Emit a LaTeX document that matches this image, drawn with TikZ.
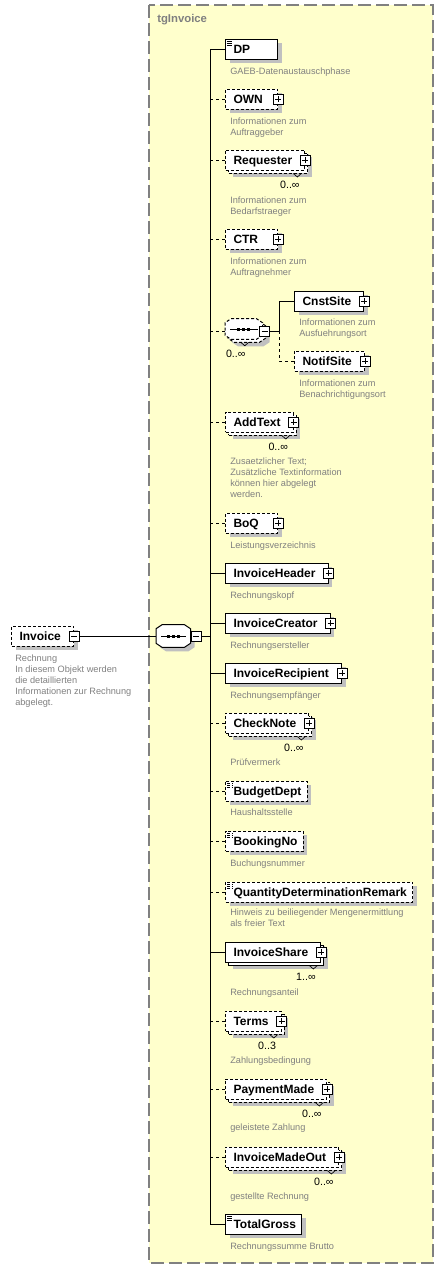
\documentclass[tikz,border=0pt]{standalone}
\usepackage{fontspec}
\setmainfont{Liberation Sans}
\usetikzlibrary{calc,shadows}
\definecolor{grpfill}{RGB}{255,255,204}
\definecolor{grpline}{RGB}{128,128,128}
\definecolor{shadowgray}{RGB}{192,192,192}
\definecolor{desctext}{RGB}{128,128,128}
\tikzset{
  shade/.style={drop shadow={shadow xshift=3pt, shadow yshift=-3pt, fill=shadowgray, draw=none, opacity=1}},
  elem/.style={draw, fill=white, line width=0.75pt, anchor=west, shade,
    minimum height=15pt, inner xsep=0pt, inner ysep=0pt, text height=8pt, text depth=1pt,
    font=\bfseries\fontsize{9}{10}\selectfont,
    execute at begin node=\hspace{6pt}, execute at end node=\hspace{4.5pt}},
  haschild/.style={execute at end node=\hspace{5pt}},
  opt/.style={dash pattern=on 2.25pt off 1.5pt},
  multi/.style={drop shadow={shadow xshift=5.25pt, shadow yshift=-5.25pt, fill=shadowgray, draw=none, opacity=1},
    copy shadow={shadow xshift=2.25pt, shadow yshift=-2.25pt}},
  textonly/.style={path picture={\foreach \d in {1.5,3,4.5}
    \draw[line width=0.5pt] ([xshift=1pt, yshift=-\d pt]path picture bounding box.north west) -- ++(4pt,0);}},
  pmbox/.style={draw, fill=white, line width=0.5pt, minimum size=7.5pt, inner sep=0pt},
  pmplus/.style={pmbox, path picture={\draw[line width=0.5pt]
    ([yshift=-1.5pt]path picture bounding box.north) -- ([yshift=1.5pt]path picture bounding box.south)
    ([xshift=1.5pt]path picture bounding box.west) -- ([xshift=-1.5pt]path picture bounding box.east);}},
  pmminus/.style={pmbox, path picture={\draw[line width=0.5pt]
    ([xshift=1.5pt]path picture bounding box.west) -- ([xshift=-1.5pt]path picture bounding box.east);}},
  compo/.style={inner sep=0pt, anchor=west},
  oct/.style n args={3}{insert path={
    ($(#1.north west)+(6+#2,#3)$) -- ($(#1.north east)+(-6+#2,#3)$) -- ($(#1.north east)+(#2,4+#3)$) --
    ($(#1.south east)+(#2,-4+#3)$) -- ($(#1.south east)+(-6+#2,#3)$) -- ($(#1.south west)+(6+#2,#3)$) --
    ($(#1.south west)+(#2,-4+#3)$) -- ($(#1.north west)+(#2,4+#3)$) -- cycle}},
  conn/.style={line width=0.75pt},
  optconn/.style={conn, dash pattern=on 2.25pt off 2.25pt},
  desc/.style={anchor=north west, align=left, inner sep=0pt, text=desctext, font=\fontsize{6.9}{8.25}\selectfont},
  mult/.style={anchor=east, inner sep=0pt, font=\fontsize{8}{9}\selectfont},
  notch/.style={line width=0.5pt},
  grptitle/.style={anchor=west, inner sep=0pt, text=grpline, font=\bfseries\fontsize{8.5}{10}\selectfont}
}
\begin{document}
\begin{tikzpicture}[x=0.75pt, y=-0.75pt]
\useasboundingbox (0,0) rectangle (444,1271);

% group box
\draw[grpline, fill=grpfill, line width=1pt, dash pattern=on 9.75pt off 3.75pt] (149,5) rectangle (433,1263);
\node[grptitle] (title) at (157,20) {tgInvoice};

% root element and sequence
\node[elem, opt, haschild] (invoice) at (11,636) {Invoice};
\node[pmminus] (invoice-pm) at (invoice.east) {};
\node[desc] (invoice-desc) at (15,655) {Rechnung\\In diesem Objekt werden\\die detaillierten\\Informationen zur Rechnung\\abgelegt.};

\node[compo, minimum width=25.5pt, minimum height=16.5pt] (seq) at (156,636) {};
\fill[shadowgray, oct={seq}{4}{4}];
\draw[fill=white, line width=0.75pt, oct={seq}{0}{0}];
\node[pmminus, anchor=west] (seq-pm) at (seq.east) {};
\coordinate (trunk) at (210,636);

% children
\node[elem, textonly] (dp) at (225,49) {\makebox[28.5pt][l]{DP}};
\node[elem, opt, haschild] (own) at (225,99) {\makebox[23.5pt][l]{OWN}};
\node[elem, opt, haschild, multi] (requester) at (225,160) {Requester};
\node[elem, opt, haschild] (ctr) at (225,239) {\makebox[23.5pt][l]{CTR}};

\node[compo, minimum width=27.75pt, minimum height=15pt] (sitegrp) at (225,329) {};
\fill[shadowgray, oct={sitegrp}{7}{7}];
\draw[fill=white, line width=0.75pt, opt, oct={sitegrp}{3}{3}];
\draw[fill=white, line width=0.75pt, opt, oct={sitegrp}{0}{0}];
\node[pmminus] (sitegrp-pm) at ([xshift=1.5pt, yshift=-1.5pt]sitegrp.east) {};
\foreach \n in {seq,sitegrp} {
  \draw[line width=0.75pt] ($(\n.west)+(5,0)$) -- ($(\n.east)+(-5,0)$);
  \foreach \dx in {-5,0,5}
    \fill ($(\n.center)+(\dx-1.5,-1.5)$) rectangle ++(3,3);
}
\coordinate (subtrunk) at (279,331);
\node[elem, haschild] (cnst) at (294,301) {CnstSite};
\node[elem, opt, haschild] (notif) at (294,361) {NotifSite};

\node[elem, opt, haschild, multi] (addtext) at (225,422) {AddText};
\node[elem, opt, haschild] (boq) at (225,523) {\makebox[23.5pt][l]{BoQ}};
\node[elem, haschild] (invheader) at (225,573) {InvoiceHeader};
\node[elem, haschild] (invcreator) at (225,623) {InvoiceCreator};
\node[elem, haschild] (invrecipient) at (225,673) {InvoiceRecipient};
\node[elem, opt, haschild, multi] (checknote) at (225,723) {CheckNote};
\node[elem, opt, textonly] (budgetdept) at (225,791) {BudgetDept};
\node[elem, opt, textonly] (bookingno) at (225,841) {BookingNo};
\node[elem, opt, textonly] (qtyremark) at (225,892) {QuantityDeterminationRemark};
\node[elem, haschild, multi] (invshare) at (225,952) {InvoiceShare};
\node[elem, opt, haschild, multi] (terms) at (225,1021) {Terms};
\node[elem, opt, haschild, multi] (paymentmade) at (225,1089) {PaymentMade};
\node[elem, opt, haschild, multi] (madeout) at (225,1157) {InvoiceMadeOut};
\node[elem, textonly] (totalgross) at (225,1224) {TotalGross};

\foreach \n in {own,requester,ctr,cnst,notif,addtext,boq,invheader,invcreator,invrecipient,checknote,invshare,terms,paymentmade,madeout}
  \node[pmplus] (\n-pm) at (\n.east) {};

% multiplicities
\foreach \n/\m in {requester/{0..∞},addtext/{0..∞},checknote/{0..∞},invshare/{1..∞},terms/{0..3},paymentmade/{0..∞},madeout/{0..∞}} {
  \draw[notch] ($(\n.south east)+(-12,3)$) -- ++(4,3.5) -- ++(4,-3.5);
  \node[mult] (\n-mult) at ($(\n.south east)+(-5.5,14.5)$) {\m};
}
\draw[notch] ($(sitegrp.south)+(-3,3)$) -- ++(4,3.5) -- ++(4,-3.5);
\node[mult, anchor=center] (sitegrp-mult) at ($(sitegrp.south)+(-8,15)$) {0..∞};

% descriptions
\node[desc] (dp-desc) at (230,68) {GAEB-Datenaustauschphase};
\node[desc] (own-desc) at (230,118) {Informationen zum\\Auftraggeber};
\node[desc] (requester-desc) at (230,197) {Informationen zum\\Bedarfstraeger};
\node[desc] (ctr-desc) at (230,258) {Informationen zum\\Auftragnehmer};
\node[desc] (cnst-desc) at (299,319) {Informationen zum\\Ausfuehrungsort};
\node[desc] (notif-desc) at (299,380) {Informationen zum\\Benachrichtigungsort};
\node[desc] (addtext-desc) at (230,458) {Zusaetzlicher Text;\\Zusätzliche Textinformation\\können hier abgelegt\\werden.};
\node[desc] (boq-desc) at (230,542) {Leistungsverzeichnis};
\node[desc] (invheader-desc) at (230,592) {Rechnungskopf};
\node[desc] (invcreator-desc) at (230,642) {Rechnungsersteller};
\node[desc] (invrecipient-desc) at (230,692) {Rechnungsempfänger};
\node[desc] (checknote-desc) at (230,759) {Prüfvermerk};
\node[desc] (budgetdept-desc) at (230,809) {Haushaltsstelle};
\node[desc] (bookingno-desc) at (230,860) {Buchungsnummer};
\node[desc] (qtyremark-desc) at (230,909) {Hinweis zu beiliegender Mengenermittlung\\als freier Text};
\node[desc] (invshare-desc) at (230,989) {Rechnungsanteil};
\node[desc] (terms-desc) at (230,1057) {Zahlungsbedingung};
\node[desc] (paymentmade-desc) at (230,1124) {geleistete Zahlung};
\node[desc] (madeout-desc) at (230,1193) {gestellte Rechnung};
\node[desc] (totalgross-desc) at (230,1243) {Rechnungssumme Brutto};

% connectors
\draw[conn] (invoice-pm.east) -- (seq.west);
\draw[conn] (seq-pm.east) -- (trunk);
\draw[conn] (trunk |- dp.west) -- (trunk |- totalgross.west);
\foreach \n in {dp,invheader,invcreator,invrecipient,invshare,totalgross}
  \draw[conn] (trunk |- \n.west) -- (\n.west);
\foreach \n in {own,requester,ctr,addtext,boq,checknote,budgetdept,bookingno,qtyremark,terms,paymentmade,madeout}
  \draw[optconn] (trunk |- \n.west) -- (\n.west);
\draw[optconn] (trunk |- subtrunk) -- (sitegrp.west |- subtrunk);
\draw[conn] (sitegrp-pm.east) -- (subtrunk);
\draw[conn] (subtrunk) -- (subtrunk |- cnst.west) -- (cnst.west);
\draw[optconn] (subtrunk) -- (subtrunk |- notif.west) -- (notif.west);
\end{tikzpicture}
\end{document}
